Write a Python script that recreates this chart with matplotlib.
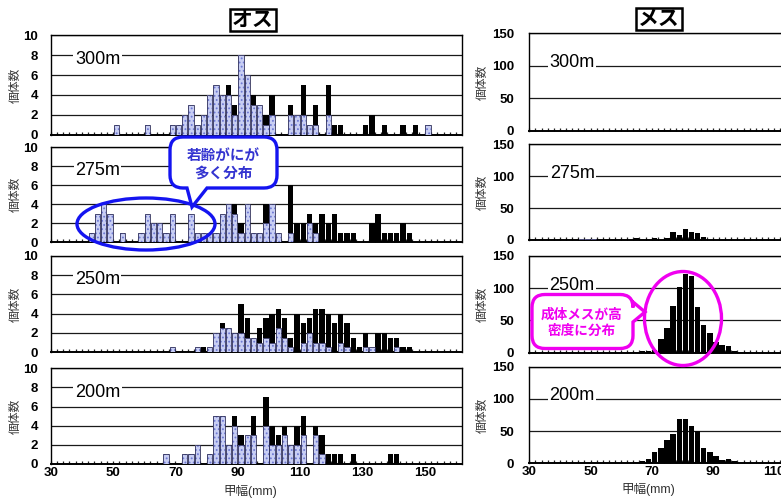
import numpy as np
import matplotlib
matplotlib.use("Agg")
import matplotlib.pyplot as plt
from matplotlib.patches import Ellipse, PathPatch
from matplotlib.path import Path
from matplotlib.ticker import MultipleLocator, FixedLocator

plt.rcParams['font.family'] = ['Liberation Sans', 'Noto Sans CJK JP', 'DejaVu Sans']
plt.rcParams['hatch.linewidth'] = 0.8

W, H, DPI = 781, 499, 100

# ---------------- text ----------------
depth_labels = ['300m', '275m', '250m', '200m']
male_title = 'オス'
female_title = 'メス'
x_label = '甲幅(mm)'
y_label = '個体数'
young_note = '若齢がにが\n多く分布'
adult_note = '成体メスが高\n密度に分布'
male_xticks = [30, 50, 70, 90, 110, 130, 150]
female_xticks = [30, 50, 70, 90, 110]
male_yticks = [0, 2, 4, 6, 8, 10]
female_yticks = [0, 50, 100, 150]

# ---------------- male (オス) data: carapace width bin centre, young count, adult count ----------------
m300_size = [51, 61, 69, 71, 73, 75, 77, 79, 81, 83, 85, 87, 89, 91, 93, 95, 97, 99, 101,
             107, 109, 111, 113, 115, 119, 121, 123, 131, 133, 137, 143, 147, 151]
m300_young = [1, 1, 1, 1, 2, 3, 1, 2, 4, 5, 4, 4, 2, 8, 6, 3, 3, 1, 2,
              2, 2, 2, 1, 1, 2, 0, 0, 0, 0, 0, 0, 0, 1]
m300_adult = [0, 0, 0, 0, 0, 0, 0, 0, 0, 0, 0, 1, 1, 0, 0, 1, 0, 1, 2,
              1, 0, 3, 0, 2, 3, 1, 1, 1, 2, 1, 1, 1, 0]

m275_size = [43, 45, 47, 49, 53, 59, 61, 63, 65, 67, 69, 75, 77, 79, 81, 83, 85, 87, 89, 91,
             93, 95, 97, 99, 101, 103, 107, 109, 111, 113, 115, 117, 119, 121, 123, 125, 127,
             133, 135, 137, 139, 141, 143, 145]
m275_young = [1, 3, 4, 3, 1, 1, 3, 2, 2, 1, 3, 3, 1, 1, 1, 1, 3, 4, 3, 1,
              4, 1, 1, 2, 4, 1, 1, 0, 0, 2, 1, 0, 0, 0, 0, 0, 0,
              0, 0, 0, 0, 0, 0, 0]
m275_adult = [0, 0, 0, 0, 0, 0, 0, 0, 0, 0, 0, 0, 0, 0, 0, 0, 0, 0, 1, 1,
              0, 0, 0, 2, 0, 0, 5, 2, 2, 1, 1, 3, 2, 3, 1, 1, 1,
              2, 3, 1, 1, 1, 2, 1]

m250_size = [69, 77, 79, 81, 83, 85, 87, 89, 91, 93, 95, 97, 99, 101, 103, 105, 107, 109, 111,
             113, 115, 117, 119, 121, 123, 125, 127, 129, 131, 133, 135, 137, 139, 141, 143, 145]
m250_young = [0.5, 0.5, 0, 0.5, 2, 2.5, 2.5, 2, 2, 1.5, 1.5, 1, 1.5, 1, 2.5, 1.5, 0.5, 0, 1,
              2, 1, 1, 0.5, 0, 1, 0.5, 0, 0, 0.5, 0.5, 0, 0, 0, 0.5, 0, 0]
m250_adult = [0, 0, 0.5, 0, 0, 0.5, 0, 0, 3, 2, 0, 1.5, 2, 3, 2, 2, 1, 4, 2,
              1.5, 3.5, 3.5, 3.5, 3, 3, 2.5, 1.5, 0.5, 1.5, 0, 2, 2, 1.5, 1, 0.5, 0.5]

m200_size = [67, 73, 75, 77, 81, 83, 85, 87, 89, 91, 93, 95, 99, 101, 103, 105, 107, 109,
             111, 115, 117, 119, 121, 123, 127, 139, 141]
m200_young = [1, 1, 1, 2, 1, 5, 5, 2, 4, 2, 3, 3, 4, 2, 2, 3, 2, 2,
              3, 3, 1, 0, 0, 0, 0, 0, 0]
m200_adult = [0, 0, 0, 0, 0, 0, 0, 0, 1, 1, 0, 2, 3, 2, 1, 1, 0, 2,
              2, 1, 2, 1, 1, 1, 1, 1, 1]

# ---------------- female (メス) data ----------------
f300_size = [65, 67, 69, 71, 73, 75]
f300_young = [0, 0, 0, 0, 0, 0]
f300_adult = [1, 2, 2, 1, 2, 1]

f275_size = [47, 49, 51, 65, 71, 75, 77, 79, 81, 83, 85, 87]
f275_young = [2, 2, 2, 0, 0, 0, 0, 0, 0, 0, 0, 0]
f275_adult = [0, 0, 0, 3, 3, 3, 13, 8, 18, 13, 11, 5]

f250_size = [63, 65, 67, 69, 71, 73, 75, 77, 79, 81, 83, 85, 87, 89, 91, 93, 95, 97, 99, 101]
f250_young = [0] * 20
f250_adult = [1, 1, 2, 2, 4, 21, 38, 72, 102, 122, 119, 71, 43, 30, 17, 12, 10, 2, 1, 1]

f200_size = [63, 65, 67, 69, 71, 73, 75, 77, 79, 81, 83, 85, 87, 89, 91, 93, 95, 97, 99]
f200_young = [0, 0, 0, 0, 0, 0, 0, 1, 1, 1, 0, 0, 0, 0, 0, 0, 0, 0, 0]
f200_adult = [1, 2, 3, 7, 17, 23, 36, 45, 68, 68, 58, 50, 23, 18, 12, 5, 6, 3, 1]

male_data = [(m300_size, m300_young, m300_adult), (m275_size, m275_young, m275_adult),
             (m250_size, m250_young, m250_adult), (m200_size, m200_young, m200_adult)]
female_data = [(f300_size, f300_young, f300_adult), (f275_size, f275_young, f275_adult),
               (f250_size, f250_young, f250_adult), (f200_size, f200_young, f200_adult)]

# ---------------- layout (pixels from top-left) ----------------
left_px = (50.7, 461.7)
left_rows = [(35, 135), (147, 242.3), (255.7, 352.3), (368.3, 464)]
right_px = (529.3, 781)
right_rows = [(33.3, 131), (144.3, 240), (256, 352.7), (366.7, 463.3)]

LIGHT_FACE = '#c8cef3'
LIGHT_HATCH = '#6f7ad4'
LIGHT_EDGE = '#30305a'
BLUE = '#1414f0'
BLUE_TXT = '#3434d0'
MAGENTA = '#f000f0'

fig = plt.figure(figsize=(W / DPI, H / DPI), dpi=DPI)
fig.patch.set_facecolor('white')


def add_axes_px(x0, x1, top, bottom):
    return fig.add_axes([x0 / W, 1 - bottom / H, (x1 - x0) / W, (bottom - top) / H])


def draw_bars(ax, size, young, adult, width):
    size = np.asarray(size, float)
    young = np.asarray(young, float)
    adult = np.asarray(adult, float)
    my = young > 0
    ax.bar(size[my], young[my], width, color=LIGHT_FACE, hatch='....',
           edgecolor=LIGHT_HATCH, linewidth=0, zorder=3)
    ax.bar(size[my], young[my], width, fill=False, edgecolor=LIGHT_EDGE,
           linewidth=0.6, zorder=4)
    ma = adult > 0
    ax.bar(size[ma], adult[ma], width, bottom=young[ma], color='black',
           linewidth=0, zorder=3)


def style_axes(ax, xlim, xticks, ylim, yticks, show_x, ypad, right_spine=True):
    ax.set_xlim(*xlim)
    ax.set_ylim(*ylim)
    ax.xaxis.set_major_locator(FixedLocator(xticks))
    ax.xaxis.set_minor_locator(MultipleLocator(2))
    ax.set_yticks(yticks)
    ax.yaxis.grid(True, color='#1a1a1a', linewidth=0.9, zorder=1)
    ax.set_axisbelow(True)
    ax.tick_params(axis='x', which='both', direction='in', length=2.5, width=0.9,
                   color='#222222', pad=2, labelsize=9.5)
    ax.tick_params(axis='y', length=0, pad=ypad, labelsize=9.5)
    for lab in ax.get_xticklabels() + ax.get_yticklabels():
        lab.set_fontweight('bold')
    if not show_x:
        ax.set_xticklabels([])
    for s in ax.spines.values():
        s.set_color('black')
        s.set_linewidth(1.0)
    ax.spines['bottom'].set_linewidth(1.4)
    if not right_spine:
        ax.spines['right'].set_visible(False)
    ax.set_ylabel(y_label, fontsize=8.5, color='#333333')


for i in range(4):
    top, bottom = left_rows[i]
    ax = add_axes_px(left_px[0], left_px[1], top, bottom)
    draw_bars(ax, *male_data[i], width=1.7)
    style_axes(ax, (30, 161.8), male_xticks, (0, 10), male_yticks, i == 3, 9)
    ax.yaxis.set_label_coords(-0.07, 0.5)
    ax.text(45, 7.5, depth_labels[i], fontsize=13, ha='center', va='center', zorder=5,
            bbox=dict(facecolor='white', edgecolor='none', pad=1.0))

    top, bottom = right_rows[i]
    ax = add_axes_px(right_px[0], right_px[1], top, bottom)
    draw_bars(ax, *female_data[i], width=1.75)
    style_axes(ax, (30, 112.25), female_xticks, (0, 150), female_yticks, i == 3, 11,
               right_spine=False)
    ax.yaxis.set_label_coords(-0.16, 0.5)
    ax.text(44, 105, depth_labels[i], fontsize=13, ha='center', va='center', zorder=5,
            bbox=dict(facecolor='white', edgecolor='none', pad=1.0))

# titles
for cx, cy, t in [(253, 20, male_title), (659, 19, female_title)]:
    fig.text(cx / W, 1 - cy / H, t, fontsize=15, fontweight='bold', ha='center', va='center',
             bbox=dict(facecolor='white', edgecolor='black', linewidth=1.8, pad=1.2))

# x labels
fig.text(250 / W, 1 - 491 / H, x_label, fontsize=9, color='#333333', ha='center', va='center')
fig.text(648 / W, 1 - 490 / H, x_label, fontsize=9, color='#333333', ha='center', va='center')


def callout_path(x0, y0, x1, y1, r, bottom_tail=None, right_tail=None):
    verts, codes = [], []

    def move(p):
        verts.append(p); codes.append(Path.MOVETO)

    def line(p):
        verts.append(p); codes.append(Path.LINETO)

    def curve(c, p):
        verts.extend([c, p]); codes.extend([Path.CURVE3, Path.CURVE3])

    move((x0 + r, y0))
    line((x1 - r, y0))
    curve((x1, y0), (x1, y0 + r))
    if right_tail:
        for p in right_tail:
            line(p)
    line((x1, y1 - r))
    curve((x1, y1), (x1 - r, y1))
    if bottom_tail:
        for p in bottom_tail:
            line(p)
    line((x0 + r, y1))
    curve((x0, y1), (x0, y1 - r))
    line((x0, y0 + r))
    curve((x0, y0), (x0 + r, y0))
    verts.append((x0 + r, y0)); codes.append(Path.CLOSEPOLY)
    return Path([(x / W, 1 - y / H) for x, y in verts], codes)


# blue callout + ellipse
blue_path = callout_path(170, 137, 277, 188, 13,
                         bottom_tail=[(207, 188), (192, 207), (187, 188)])
fig.add_artist(PathPatch(blue_path, transform=fig.transFigure, facecolor='white',
                         edgecolor=BLUE, linewidth=2.4, zorder=10))
fig.text(223 / W, 1 - 165 / H, young_note, fontsize=10.5, fontweight='bold', color=BLUE_TXT,
         ha='center', va='center', linespacing=1.3, zorder=11)
fig.add_artist(Ellipse((146 / W, 1 - 224 / H), 138 / W, 52 / H, transform=fig.transFigure,
                       fill=False, edgecolor=BLUE, linewidth=2.4, zorder=10))

# magenta callout + ellipse
mag_path = callout_path(532, 294.5, 633, 348.5, 13,
                        right_tail=[(633, 302), (645, 312), (633, 322)])
fig.add_artist(PathPatch(mag_path, transform=fig.transFigure, facecolor='white',
                         edgecolor=MAGENTA, linewidth=2.4, zorder=10))
fig.text(582 / W, 1 - 323 / H, adult_note, fontsize=9.8, fontweight='bold', color=MAGENTA,
         ha='center', va='center', linespacing=1.2, zorder=11)
fig.add_artist(Ellipse((683 / W, 1 - 318.5 / H), 77 / W, 94 / H, transform=fig.transFigure,
                       fill=False, edgecolor=MAGENTA, linewidth=2.4, zorder=10))

fig.savefig('out.png', dpi=DPI, facecolor='white')
